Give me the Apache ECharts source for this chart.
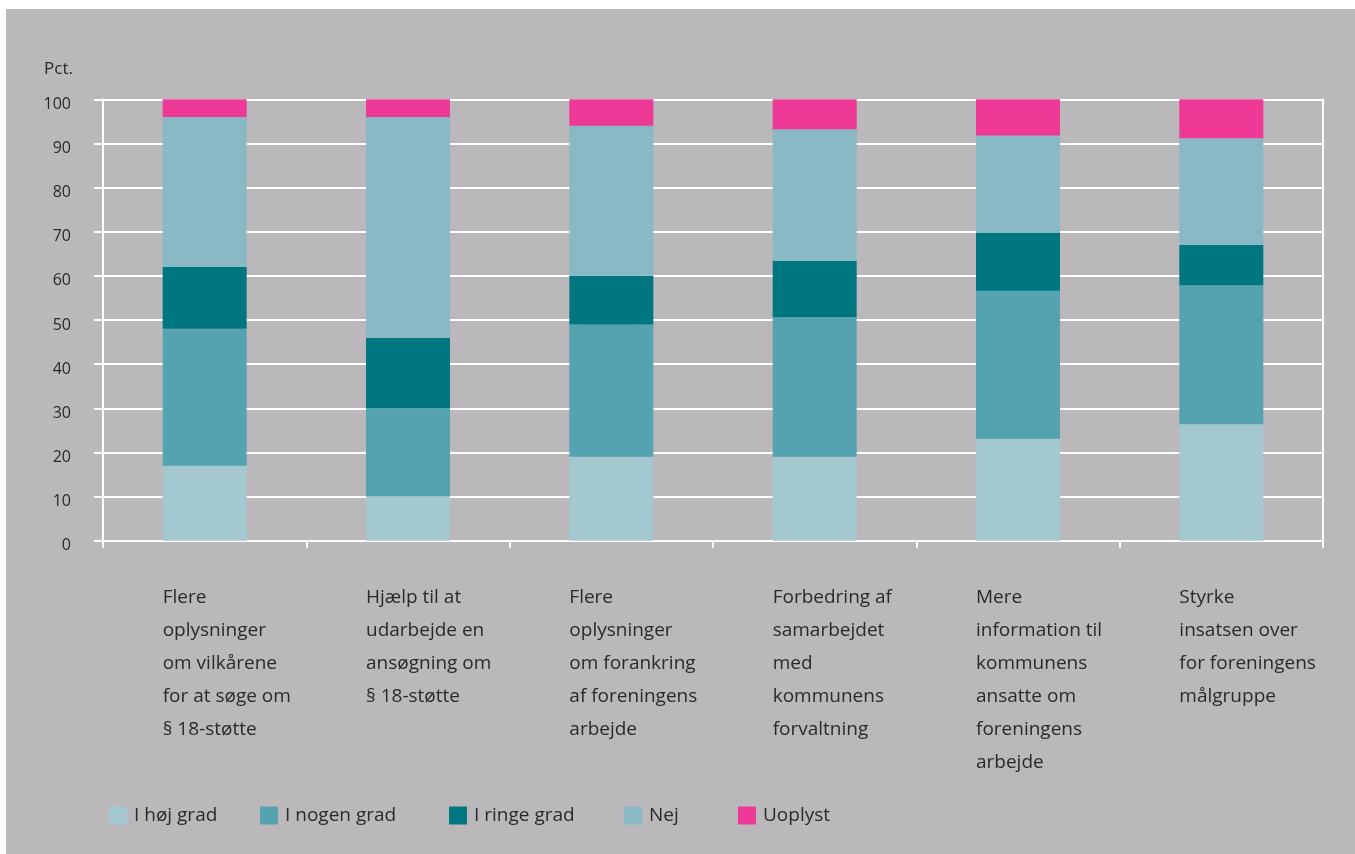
<!DOCTYPE html>
<html>
<head>
<meta charset="utf-8">
<script src="https://cdn.jsdelivr.net/npm/echarts@6/dist/echarts.min.js"></script>
<style>
  html, body { margin: 0; padding: 0; background: #ffffff; }
  #bg { position: absolute; left: 6px; top: 9px; width: 1349px; height: 845px; background: #bab8bb; }
  #chart { position: absolute; left: 0; top: 0; width: 1355px; height: 854px; }
</style>
</head>
<body>
<div id="bg"></div>
<div id="chart"></div>
<script>
// ---- data ----
const categories = [
  "Flere\noplysninger\nom vilkårene\nfor at søge om\n§ 18-støtte",
  "Hjælp til at\nudarbejde en\nansøgning om\n§ 18-støtte",
  "Flere\noplysninger\nom forankring\naf foreningens\narbejde",
  "Forbedring af\nsamarbejdet\nmed\nkommunens\nforvaltning",
  "Mere\ninformation til\nkommunens\nansatte om\nforeningens\narbejde",
  "Styrke\ninsatsen over\nfor foreningens\nmålgruppe"
];
const seriesNames = ["I høj grad", "I nogen grad", "I ringe grad", "Nej", "Uoplyst"];
const hojGrad   = [17, 10, 19, 19, 23.1, 26.4];
const nogenGrad = [31, 20, 30, 31.7, 33.5, 31.5];
const ringeGrad = [14, 16, 11, 12.7, 13.2, 9.1];
const nej       = [34, 50, 34, 29.8, 22.0, 24.2];
const uoplyst   = [4, 4, 6, 6.8, 8.2, 8.8];
const yTicks = { min: 0, max: 100, interval: 10 };
const axisTitle = "Pct.";

// ---- styles ----
const colors = ["#a3c8d0", "#55a2b0", "#007681", "#88b9c4", "#ee3a96"];
const textColor = "#2a2a2a";
const font = "'Open Sans', 'Noto Sans', sans-serif";
const values = [hojGrad, nogenGrad, ringeGrad, nej, uoplyst];
const legendLefts = [109, 260, 449, 624, 738];

const chart = echarts.init(document.getElementById('chart'), null, { renderer: 'canvas' });

const option = {
  animation: false,
  backgroundColor: 'transparent',
  textStyle: { fontFamily: font },
  grid: { left: 103, right: 32, top: 99.3, bottom: 313.3, containLabel: false },
  legend: seriesNames.map((n, i) => ({
    data: [n],
    left: legendLefts[i],
    top: 806,
    padding: 0,
    itemWidth: 18,
    itemHeight: 18,
    itemGap: 0,
    icon: 'rect',
    selectedMode: false,
    textStyle: { color: textColor, fontSize: 19, fontFamily: font, padding: [0, 0, 0, 2] }
  })),
  xAxis: {
    type: 'category',
    data: categories,
    boundaryGap: true,
    axisLine: { show: true, lineStyle: { color: '#ffffff', width: 2 } },
    axisTick: { show: true, alignWithLabel: false, length: 7, lineStyle: { color: '#ffffff', width: 2 } },
    axisLabel: {
      interval: 0,
      align: 'left',
      verticalAlign: 'top',
      margin: 40,
      padding: [0, 0, 0, -42],
      color: textColor,
      fontSize: 19,
      lineHeight: 33,
      fontFamily: font
    },
    splitLine: { show: false }
  },
  yAxis: [{
    type: 'value',
    min: yTicks.min,
    max: yTicks.max,
    interval: yTicks.interval,
    name: axisTitle,
    nameLocation: 'end',
    nameGap: 30,
    nameTextStyle: { color: textColor, fontSize: 17, align: 'right', verticalAlign: 'middle', padding: [0, 30, 0, 0], fontFamily: font },
    axisLine: { show: true, lineStyle: { color: '#ffffff', width: 2 } },
    axisTick: { show: true, length: 9, lineStyle: { color: '#ffffff', width: 2 } },
    axisLabel: { color: textColor, fontSize: 16, margin: 32, verticalAlign: 'top', lineHeight: 10, fontFamily: font },
    splitLine: { show: true, lineStyle: { color: '#ffffff', width: 2 } }
  }, {
    type: 'value',
    position: 'right',
    min: yTicks.min,
    max: yTicks.max,
    interval: yTicks.interval,
    axisLine: { show: true, lineStyle: { color: '#ffffff', width: 2 } },
    axisTick: { show: false },
    axisLabel: { show: false },
    splitLine: { show: false }
  }],
  series: seriesNames.map((n, i) => ({
    name: n,
    type: 'bar',
    stack: 'total',
    yAxisIndex: 0,
    barWidth: 84,
    data: values[i],
    itemStyle: { color: colors[i] },
    emphasis: { disabled: true }
  }))
};
chart.setOption(option);
</script>
</body>
</html>
